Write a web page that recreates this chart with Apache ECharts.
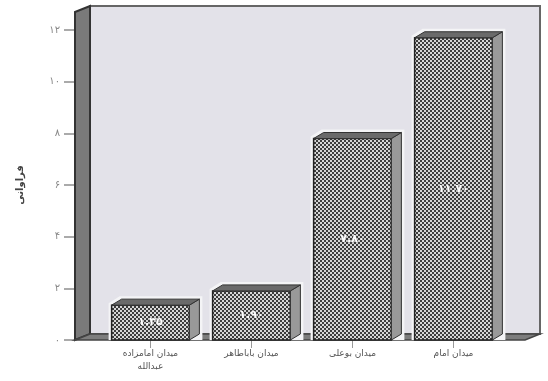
<!DOCTYPE html>
<html><head><meta charset="utf-8">
<script src="https://cdn.jsdelivr.net/npm/echarts@6/dist/echarts.min.js"></script>
<style>html,body{margin:0;padding:0;background:#fff}#c{width:548px;height:381px}</style>
</head><body><div id="c"></div>
<script>
const categories = ['میدان امامزاده\nعبدالله', 'میدان باباطاهر', 'میدان بوعلی', 'میدان امام'];
const values = [1.35, 1.9, 7.8, 11.7];
const yTicks = [0, 2, 4, 6, 8, 10, 12];
const yTickLabels = ['۰', '۲', '۴', '۶', '۸', '۱۰', '۱۲'];
const yTitle = 'فراوانی';

function toFa(s){ return String(s).replace(/\d/g, d => '۰۱۲۳۴۵۶۷۸۹'[d]); }

const pat = document.createElement('canvas');
pat.width = 4; pat.height = 4;
const pc = pat.getContext('2d');
pc.fillStyle = '#d6d6d6'; pc.fillRect(0,0,4,4);
pc.fillStyle = '#3c3c3c'; pc.fillRect(0,0,2,2); pc.fillRect(2,2,2,2);

const chart = echarts.init(document.getElementById('c'));
const option = {
  animation: false,
  grid: {left: 100, right: 44, top: 30, bottom: 41},
  xAxis: {
    type: 'category', data: categories,
    axisLine: {show: false},
    axisTick: {show: true, alignWithLabel: true, length: 8, lineStyle: {color: '#999', width: 1}},
    axisLabel: {color: '#555', fontSize: 9, margin: 7, lineHeight: 13, fontFamily: 'DejaVu Sans'}
  },
  yAxis: {
    type: 'value', min: 0, max: 12, interval: 2, offset: 25,
    axisLine: {show: false},
    axisTick: {show: true, length: 11, lineStyle: {color: '#aaa', width: 2}},
    splitLine: {show: false},
    axisLabel: {formatter: v => yTickLabels[yTicks.indexOf(v)], color: '#888', fontSize: 10, margin: 15, fontFamily: 'DejaVu Sans'},
    name: yTitle, nameLocation: 'middle', nameGap: 50, nameRotate: 90,
    nameTextStyle: {color: '#444', fontSize: 10, fontWeight: 'bold', fontFamily: 'DejaVu Sans'}
  },
  series: [
    {
      type: 'custom', silent: true, z: 1, clip: false,
      data: [[0, 0]],
      renderItem: function(params, api){
        const cs = params.coordSys;
        const gx = cs.x, gy = cs.y, gw = cs.width, gh = cs.height;
        const yb = gy + gh, fx = gx - 25, d = 15, dy = 6;
        const bx0 = fx + d, bx1 = gx + gw + 36, by0 = gy - 24, by1 = yb - dy;
        return {type: 'group', children: [
          {type: 'rect', shape: {x: bx0, y: by0, width: bx1 - bx0, height: by1 - by0},
           style: {fill: '#e3e2e9', stroke: '#666', lineWidth: 2}},
          {type: 'polygon', shape: {points: [[fx, by0 + dy], [bx0, by0], [bx0, by1], [fx, yb]]},
           style: {fill: '#7a7a7a', stroke: '#333', lineWidth: 2}},
          {type: 'polygon', shape: {points: [[fx, yb], [bx0, by1], [bx1, by1], [bx1 - d, yb]]},
           style: {fill: '#7d7d7d', stroke: '#444', lineWidth: 1.5}}
        ]};
      }
    },
    {
      type: 'custom', z: 5, clip: false,
      data: values.map((v, i) => [i, v]),
      renderItem: function(params, api){
        const i = api.value(0), v = api.value(1);
        const top = api.coord([i, v]), base = api.coord([i, 0]);
        const bw = api.size([1, 0])[0] * 0.77;
        const x0 = top[0] - bw / 2, x1 = top[0] + bw / 2, yt = top[1], yb = base[1];
        const dx = 10, dy = 6;
        return {type: 'group', children: [
          {type: 'polygon', shape: {points: [[x0 - 3, yb], [x0 - 3, yt - 2], [x0 + dx - 2, yt - dy - 3], [x1 + dx + 3, yt - dy - 3], [x1 + dx + 3, yb]]},
           style: {fill: '#f4f4f6'}},
          {type: 'rect', shape: {x: x0, y: yt, width: bw, height: yb - yt},
           style: {fill: {image: pat, repeat: 'repeat'}, stroke: '#222', lineWidth: 1.5}},
          {type: 'polygon', shape: {points: [[x1, yt], [x1 + dx, yt - dy], [x1 + dx, yb - dy], [x1, yb]]},
           style: {fill: '#999', stroke: '#333', lineWidth: 1}},
          {type: 'polygon', shape: {points: [[x0, yt], [x0 + dx, yt - dy], [x1 + dx, yt - dy], [x1, yt]]},
           style: {fill: '#6a6a6a', stroke: '#333', lineWidth: 1}},
          {type: 'text', style: {text: toFa(v.toFixed(2)), x: (x0 + x1) / 2, y: (yt + yb) / 2,
            align: 'center', verticalAlign: 'middle', fill: '#fff', fontSize: 11, fontWeight: 'bold',
            fontFamily: 'DejaVu Sans', textShadowColor: '#555', textShadowBlur: 2}}
        ]};
      }
    }
  ]
};
chart.setOption(option);
</script></body></html>
